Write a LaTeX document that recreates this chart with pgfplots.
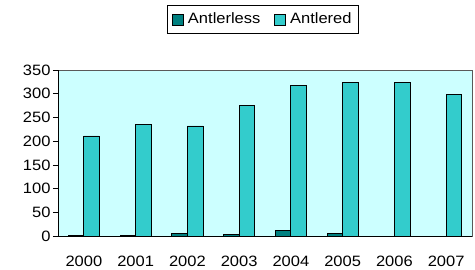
\documentclass[border=0pt]{standalone}
\usepackage{pgfplots}
\pgfplotsset{compat=1.18}
\usepackage{fontspec}
\setmainfont[FakeStretch=1.1]{Liberation Sans}
\definecolor{bgc}{HTML}{CCFFFF}
\definecolor{antlerless}{HTML}{008080}
\definecolor{antlered}{HTML}{33CCCC}
\begin{document}
\begin{tikzpicture}
\begin{axis}[
  name=ax,
  at={(0,0)}, anchor=south west,
  width=414bp, height=166bp, scale only axis,
  xmin=-0.5, xmax=7.5, ymin=0, ymax=350,
  xtick={0,1,2,3,4,5,6,7},
  xticklabels={2000,2001,2002,2003,2004,2005,2006,2007},
  ytick={0,50,100,150,200,250,300,350},
  ytick pos=left,
  /pgf/number format/assume math mode=true,
  ticklabel style={font=\fontsize{15bp}{17bp}\selectfont},
  x tick style={draw=none},
  y tick style={black, line width=0.6pt},
  tick align=outside, major tick length=5bp,
  yticklabel style={xshift=1bp},
  xticklabel style={yshift=-12bp},
  axis background/.style={fill=bgc},
  axis line style={draw=gray!70!black, line width=0.6pt},
  bar width=0.3,
  legend columns=2,
  legend style={at={(axis description cs:0.495,1.392)}, anchor=north,
    draw=black, fill=white, font=\fontsize{15bp}{17bp}\selectfont,
    inner xsep=5bp, inner ysep=6bp,
    /tikz/every even column/.append style={column sep=12bp}},
  legend image code/.code={\draw[#1,draw=black,line width=0.6pt] (0bp,-5.5bp) rectangle (11bp,5.5bp); \path (13bp,0bp);},
]
\addplot[ybar, bar shift=-0.15, fill=antlerless, draw=black, line width=0.8pt]
  coordinates {(0,2) (1,2) (2,6) (3,4) (4,11) (5,6) (6,0) (7,0)};
\addlegendentry{Antlerless}
\addplot[ybar, bar shift=0.15, fill=antlered, draw=black, line width=0.8pt]
  coordinates {(0,211) (1,235) (2,232) (3,275) (4,318) (5,323) (6,324) (7,299)};
\addlegendentry{Antlered}
\draw[black, line width=0.8pt] (rel axis cs:0,0) -- (rel axis cs:1,0);
\draw[black, line width=0.6pt] (rel axis cs:0,0) -- (rel axis cs:0,1);
\end{axis}
\pgfresetboundingbox
\path (ax.south west) ++(-58bp,-34bp) rectangle ([xshift=3bp,yshift=70bp]ax.north east);
\end{tikzpicture}
\end{document}
